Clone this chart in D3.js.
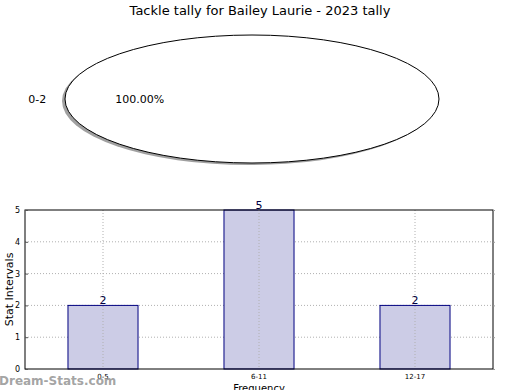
<!DOCTYPE html>
<html><head><meta charset="utf-8">
<script src="https://cdn.jsdelivr.net/npm/d3@7"></script>
<style>body{margin:0;background:#fff}svg{display:block;font-family:"DejaVu Sans",sans-serif}</style>
</head><body><svg id="c" width="520" height="390"></svg>
<script>
const titleText = "Tackle tally for Bailey Laurie - 2023 tally";
const pieLabels = ["0-2"];
const pieValues = [1];
const barCategories = ["0-5", "6-11", "12-17"];
const barValues = [2, 5, 2];
const yTicks = [0, 1, 2, 3, 4, 5];

const svg = d3.select("#c");
svg.append("rect").attr("width",520).attr("height",390).attr("fill","#fff");

svg.append("text").attr("x",260).attr("y",15).attr("text-anchor","middle")
  .attr("font-size",13).attr("fill","#000").text(titleText);

// Pie (drawn as ellipse via scaling)
const cx = 252, cy = 99, rx = 187, ry = 64;
const pie = d3.pie().sort(null).startAngle(-1.5*Math.PI).endAngle(0.5*Math.PI);
const arcs = pie(pieValues);
const arc = d3.arc().innerRadius(0).outerRadius(rx);
const sy = ry / rx;
// shadow
svg.append("g").attr("transform",`translate(${cx-3},${cy+2}) scale(1,${sy})`)
  .selectAll("path").data(arcs).join("path").attr("d",arc)
  .attr("fill","#888").attr("opacity",0.8);
svg.append("g").attr("transform",`translate(${cx},${cy}) scale(1,${sy})`)
  .selectAll("path").data(arcs).join("path").attr("d",arc)
  .attr("fill","#fff").attr("stroke","#000").attr("stroke-width",1)
  .attr("vector-effect","non-scaling-stroke");
const labArc = d3.arc().innerRadius(rx*1.1).outerRadius(rx*1.1);
const pctArc = d3.arc().innerRadius(rx*0.6).outerRadius(rx*0.6);
const total = d3.sum(pieValues);
arcs.forEach((a,i)=>{
  const mid = (a.startAngle+a.endAngle)/2;
  const lp = labArc.centroid(a), pp = pctArc.centroid(a);
  svg.append("text").attr("x",cx+lp[0]).attr("y",cy+lp[1]*sy).attr("dy","0.35em")
    .attr("text-anchor", Math.sin(mid) < 0 ? "end" : "start")
    .attr("font-size",11).attr("fill","#000").text(pieLabels[i]);
  svg.append("text").attr("x",cx+pp[0]).attr("y",cy+pp[1]*sy).attr("dy","0.35em")
    .attr("text-anchor","middle").attr("font-size",11).attr("fill","#000")
    .text((pieValues[i]/total*100).toFixed(2)+"%");
});

// Bar chart
const L = 25, R = 493, T = 210, B = 369;
const x = d3.scaleBand().domain(barCategories).range([L,R]).paddingInner(0.551).paddingOuter(0.2755);
const y = d3.scaleLinear().domain([0,5]).range([B,T]);
const g = svg.append("g");
// grid
g.selectAll(".gy").data(yTicks.slice(1,-1)).join("line")
  .attr("x1",L).attr("x2",R).attr("y1",d=>y(d)).attr("y2",d=>y(d))
  .attr("stroke","#b0b0b0").attr("stroke-dasharray","1,2");
// bars
g.selectAll(".bar").data(barValues).join("rect")
  .attr("x",(d,i)=>x(barCategories[i])).attr("width",x.bandwidth())
  .attr("y",d=>y(d)).attr("height",d=>B-y(d))
  .attr("fill","#ccccE6").attr("stroke","#000080").attr("stroke-width",1);
g.selectAll(".gx").data(barCategories).join("line")
  .attr("x1",d=>x(d)+x.bandwidth()/2).attr("x2",d=>x(d)+x.bandwidth()/2)
  .attr("y1",T).attr("y2",B).attr("stroke","#b0b0b0").attr("stroke-dasharray","1,2");
// value labels
g.selectAll(".vl").data(barValues).join("text")
  .attr("x",(d,i)=>x(barCategories[i])+x.bandwidth()/2).attr("y",d=>y(d)-1)
  .attr("text-anchor","middle").attr("font-size",11).attr("fill","#000040").text(d=>d);
// frame
g.append("rect").attr("x",L).attr("y",T).attr("width",R-L).attr("height",B-T)
  .attr("fill","none").attr("stroke","#000").attr("stroke-width",1);
// axes
const ya = d3.axisLeft(y).tickValues(yTicks).tickSize(-3).tickPadding(5).tickFormat(d3.format("d"));
const yg = svg.append("g").attr("transform",`translate(${L},0)`).call(ya);
yg.select(".domain").remove();
yg.selectAll("text").attr("font-size",8).attr("font-family","DejaVu Sans");
yg.selectAll("line").attr("stroke","#555");
const yr = svg.append("g").attr("transform",`translate(${R},0)`).call(d3.axisRight(y).tickValues(yTicks).tickSize(2).tickFormat(""));
yr.select(".domain").remove(); yr.selectAll("line").attr("stroke","#999");
const xa = d3.axisBottom(x).tickSize(0).tickPadding(5);
const xg = svg.append("g").attr("transform",`translate(0,${B})`).call(xa);
xg.select(".domain").remove();
xg.selectAll("text").attr("font-size",7).attr("font-family","DejaVu Sans");

svg.append("text").attr("x",(L+R)/2).attr("y",392).attr("text-anchor","middle")
  .attr("font-size",10).text("Frequency");
svg.append("text").attr("transform",`translate(13,${(T+B)/2}) rotate(-90)`)
  .attr("text-anchor","middle").attr("font-size",11).text("Stat Intervals");

svg.append("text").attr("x",-1).attr("y",385).attr("font-size",12).attr("font-weight","bold")
  .attr("fill","#999").attr("fill-opacity",0.9).text("Dream-Stats.com");
</script></body></html>
